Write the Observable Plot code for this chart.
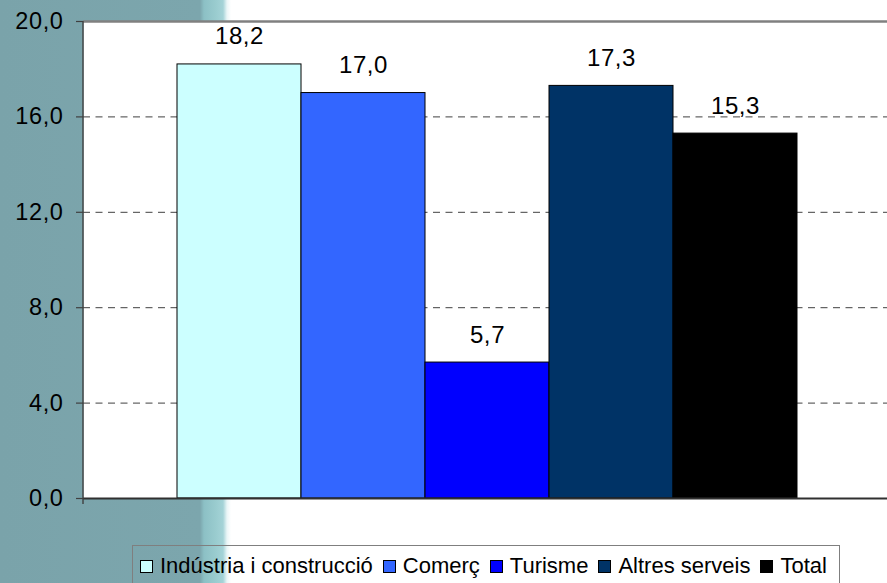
<!DOCTYPE html>
<html><head><meta charset="utf-8">
<script src="https://cdn.jsdelivr.net/npm/d3@7"></script>
<script src="https://cdn.jsdelivr.net/npm/@observablehq/plot@0.6"></script>
<style>
html,body{margin:0;padding:0;}
body{width:887px;height:583px;overflow:hidden;font-family:"Liberation Sans",Arial,sans-serif;}
#wrap{position:relative;width:887px;height:583px;
 background:linear-gradient(to right,#7aa3aa 0px,#7ca6ad 200px,#8cc0c5 204px,#9acccf 216px,#a4d3d7 223px,#eaf6f7 227px,#ffffff 231px);}
#legend{position:absolute;left:132px;top:545px;width:708px;height:45px;border:1px solid #7f7f7f;box-sizing:border-box;
 display:flex;align-items:flex-start;padding:7px 0 0 7px;font-size:22px;color:#000;white-space:nowrap;}
#legend .it{display:flex;align-items:center;margin-right:10px;}
#legend .sw{width:11px;height:11px;border:1px solid #000;margin-right:7px;box-sizing:content-box;}
svg text{letter-spacing:0.6px;}
</style></head>
<body><div id="wrap"><div id="chart"></div><div id="legend"></div></div>
<script>
const series = ["Indústria i construcció", "Comerç", "Turisme", "Altres serveis", "Total"];
const values = [18.2, 17.0, 5.7, 17.3, 15.3];
const colors = ["#ccffff", "#3366ff", "#0000ff", "#003366", "#000000"];
const yTicks = [0, 4, 8, 12, 16, 20];
const gridTicks = [4, 8, 12, 16];

const data = series.map((s, i) => ({series: s, value: values[i]}));
const fmt = v => v.toFixed(1).replace(".", ",");

const W = 887, H = 530;
// left axis line drawn from the layout's own margin and y scale
const leftAxis = (index, scales, values, dims) => {
  const g = d3.create("svg:g");
  g.append("line")
    .attr("x1", dims.marginLeft).attr("x2", dims.marginLeft)
    .attr("y1", scales.y(20)).attr("y2", scales.y(0) + 6)
    .attr("stroke", "#404040").attr("stroke-width", 1.4);
  return g.node();
};
const chart = Plot.plot({
  width: W, height: H,
  marginLeft: 83, marginRight: 0, marginTop: 21, marginBottom: 32,
  style: {background: "transparent", fontFamily: "Liberation Sans, Arial, sans-serif"},
  x: {domain: series, range: [176, 797], padding: 0, axis: null},
  y: {domain: [0, 20], axis: null, label: null},
  color: {domain: series, range: colors},
  marks: [
    Plot.frame({fill: "white", stroke: "none"}),
    Plot.ruleY(gridTicks, {stroke: "#404040", strokeWidth: 1, strokeDasharray: "7,5.5"}),
    Plot.barY(data, {x: "series", y: "value", fill: "series", stroke: "#000", strokeWidth: 1, inset: 0}),
    Plot.text(data, {x: "series", y: "value", text: d => fmt(d.value), lineAnchor: "bottom", dy: -20, fontSize: 24, fill: "#000"}),
    Plot.ruleY([20], {stroke: "#808080", strokeWidth: 2.5}),
    Plot.ruleY([0], {stroke: "#303030", strokeWidth: 2}),
    leftAxis,
    Plot.axisY(yTicks, {tickFormat: fmt, tickSize: 7, tickPadding: 13, fontSize: 23.5, stroke: "#404040", strokeWidth: 1.2, color: "#000", label: null})
  ]
});
document.getElementById("chart").appendChild(chart);

const leg = document.getElementById("legend");
series.forEach((s, i) => {
  const it = document.createElement("div"); it.className = "it";
  const sw = document.createElement("div"); sw.className = "sw"; sw.style.background = colors[i];
  const t = document.createElement("span"); t.textContent = s;
  it.appendChild(sw); it.appendChild(t); leg.appendChild(it);
});
</script></body></html>
